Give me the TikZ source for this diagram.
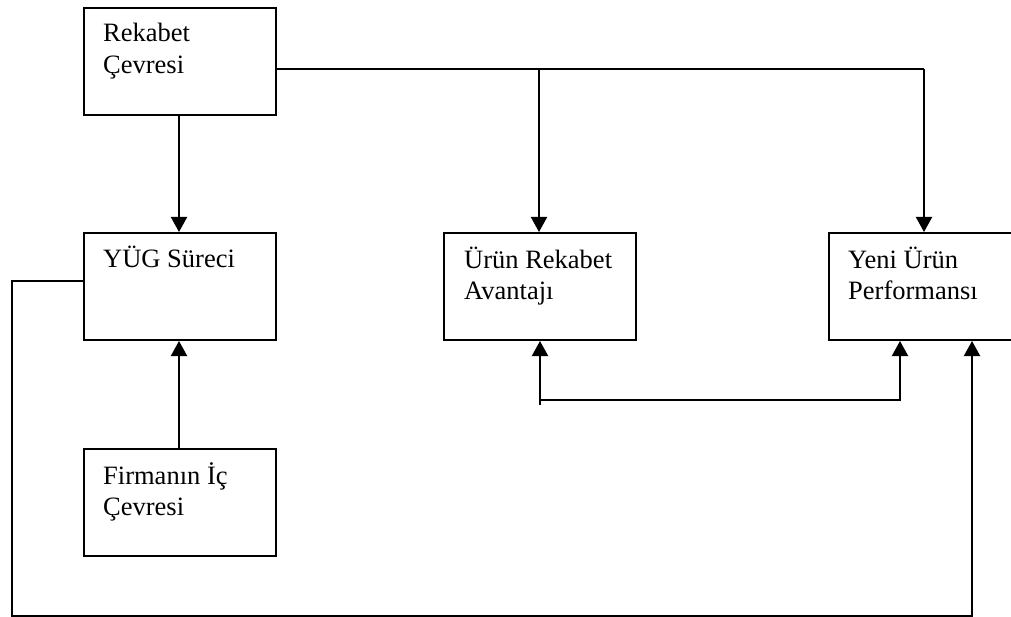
\documentclass[tikz,border=0pt]{standalone}
\usepackage{fontspec}
\setmainfont{Liberation Serif}
\usetikzlibrary{arrows.meta}
\begin{document}
\begin{tikzpicture}[x=1pt,y=-1pt,
  box/.style={draw,line width=2pt,rectangle,minimum width=192pt,minimum height=107pt,inner sep=0pt,anchor=north west},
  lbl/.style={anchor=base west,inner sep=0pt,align=left,font=\fontsize{26.5}{31.5}\selectfont},
  conn/.style={line width=2pt},
  arr/.style={conn,-{Triangle[width=16pt,length=15pt]}}]
\useasboundingbox (0,0) rectangle (1011,617);
\clip (0,0) rectangle (1011,617);

% boxes
\node[box] (rek) at (83,7) {};
\node[box] (yug) at (83,232) {};
\node[box] (firm) at (83,448) {};
\node[box] (urun) at (443,232) {};
\node[box,minimum width=200pt] (yeni) at (828,232) {};

% labels (base = baseline of the last line)
\node[lbl] (rekt) at (103,73.5) {Rekabet\\Çevresi};
\node[lbl] (yugt) at (103,268) {YÜG Süreci};
\node[lbl] (firmt) at (103,515.5) {Firmanın İç\\Çevresi};
\node[lbl] (urunt) at (464,299.5) {Ürün Rekabet\\Avantajı};
\node[lbl] (yenit) at (848,299.5) {Yeni Ürün\\Performansı};

% junction points
\coordinate (top1) at (539,69);
\coordinate (top2) at (924,69);
\coordinate (fb0) at (540,405);
\coordinate (fb1) at (540,400);
\coordinate (fb2) at (900,400);
\coordinate (lp1) at (12,281);
\coordinate (lp2) at (12,616);
\coordinate (lp3) at (972,616);

% connectors
\draw[arr] (rek.south -| 179,0) -- (yug.north -| 179,0);
\draw[arr] (firm.north -| 179,0) -- (yug.south -| 179,0);
\draw[conn] (rek.east |- top1) -- (top2);
\draw[arr] (top2) -- (yeni.north -| top2);
\draw[arr] (top1) -- (urun.north -| top1);
\draw[arr] (fb0) -- (urun.south -| fb0);
\draw[arr] (fb1) -- (fb2) -- (yeni.south -| fb2);
\draw[arr] (yug.west |- lp1) -- (lp1) -- (lp2) -- (lp3) -- (yeni.south -| lp3);
\end{tikzpicture}
\end{document}
